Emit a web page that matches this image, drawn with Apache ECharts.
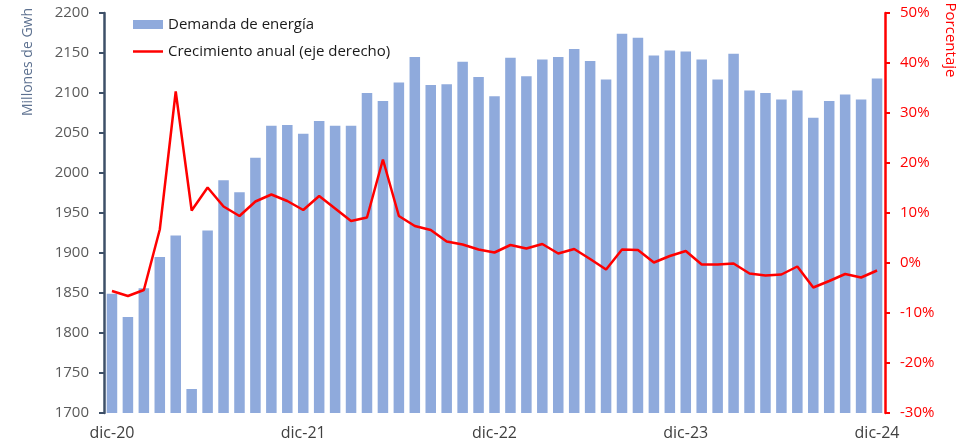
<!DOCTYPE html>
<html>
<head>
<meta charset="utf-8">
<script src="https://cdn.jsdelivr.net/npm/echarts@6/dist/echarts.min.js"></script>
<style>
  html, body { margin: 0; padding: 0; background: #ffffff; }
  #chart { width: 959px; height: 446px; }
</style>
</head>
<body>
<div id="chart"></div>
<script>
// meses: dic-20 a dic-24
const meses = [
  'dic-20',
  'ene-21', 'feb-21', 'mar-21', 'abr-21', 'may-21', 'jun-21', 'jul-21', 'ago-21', 'sep-21', 'oct-21', 'nov-21', 'dic-21',
  'ene-22', 'feb-22', 'mar-22', 'abr-22', 'may-22', 'jun-22', 'jul-22', 'ago-22', 'sep-22', 'oct-22', 'nov-22', 'dic-22',
  'ene-23', 'feb-23', 'mar-23', 'abr-23', 'may-23', 'jun-23', 'jul-23', 'ago-23', 'sep-23', 'oct-23', 'nov-23', 'dic-23',
  'ene-24', 'feb-24', 'mar-24', 'abr-24', 'may-24', 'jun-24', 'jul-24', 'ago-24', 'sep-24', 'oct-24', 'nov-24', 'dic-24'
];

// demanda mensual (millones de Gwh)
const demanda = [
  1849, 1820, 1856, 1895, 1922, 1730, 1928, 1991, 1976, 2019, 2059, 2060,
  2049, 2065, 2059, 2059, 2100, 2090, 2113, 2145, 2110, 2111, 2139, 2120,
  2096, 2144, 2121, 2142, 2145, 2155, 2140, 2117, 2174, 2169, 2147, 2153,
  2152, 2142, 2117, 2149, 2103, 2100, 2092, 2103, 2069, 2090, 2098, 2092,
  2118
];

// crecimiento anual (%)
const crecimiento = [
  -5.6, -6.6, -5.4, 6.7, 34.3, 10.5, 15.1, 11.3, 9.4, 12.3, 13.7, 12.4,
  10.6, 13.4, 10.9, 8.4, 9.1, 20.7, 9.4, 7.4, 6.6, 4.3, 3.7, 2.7,
  2.1, 3.6, 2.9, 3.8, 1.9, 2.8, 0.8, -1.3, 2.7, 2.6, 0.1, 1.4,
  2.4, -0.3, -0.3, -0.1, -2.1, -2.5, -2.3, -0.7, -4.9, -3.6, -2.2, -2.9,
  -1.5
];

const fuente = "'Open Sans', 'Liberation Sans', sans-serif";
const textoLeyenda = { fontSize: 15, color: '#1a1a1a', fontFamily: fuente };

const chart = echarts.init(document.getElementById('chart'));
chart.setOption({
  animation: false,
  backgroundColor: '#ffffff',
  textStyle: { fontFamily: fuente },
  grid: { left: 104, right: 74, top: 13, bottom: 33, containLabel: false },
  // dos leyendas para controlar cada icono por separado
  legend: [
    {
      left: 128,
      top: 12,
      itemWidth: 30,
      itemHeight: 9,
      textStyle: textoLeyenda,
      data: [{ name: 'Demanda de energía', icon: 'rect' }]
    },
    {
      left: 128,
      top: 39,
      itemWidth: 30,
      itemHeight: 2.5,
      textStyle: textoLeyenda,
      data: [{ name: 'Crecimiento anual (eje derecho)', icon: 'rect' }]
    }
  ],
  graphic: [
    {
      type: 'text',
      x: 28, y: 62,
      rotation: Math.PI / 2,
      style: {
        text: 'Millones de Gwh',
        fill: '#5d7190',
        font: "14px 'Open Sans', sans-serif",
        textAlign: 'center',
        textVerticalAlign: 'middle'
      }
    },
    {
      type: 'text',
      x: 950, y: 40,
      rotation: -Math.PI / 2,
      style: {
        text: 'Porcentaje',
        fill: '#ff0000',
        font: "15px 'Open Sans', sans-serif",
        textAlign: 'center',
        textVerticalAlign: 'middle'
      }
    }
  ],
  xAxis: {
    type: 'category',
    data: meses,
    boundaryGap: true,
    axisLine: { show: false },
    axisTick: { show: false },
    axisLabel: {
      interval: 11,
      margin: 12,
      fontSize: 16,
      color: '#404040',
      fontFamily: fuente
    }
  },
  yAxis: [
    {
      type: 'value',
      min: 1700,
      max: 2200,
      interval: 50,
      splitLine: { show: false },
      axisLine: { show: true, lineStyle: { color: '#3e5068', width: 2.5 } },
      axisTick: { show: true, length: 5, lineStyle: { color: '#3e5068', width: 2 } },
      axisLabel: {
        fontSize: 15,
        color: '#595959',
        margin: 15,
        fontFamily: fuente,
        formatter: v => String(v)
      }
    },
    {
      type: 'value',
      position: 'right',
      min: -30,
      max: 50,
      interval: 10,
      splitLine: { show: false },
      axisLine: { show: true, lineStyle: { color: '#ff0000', width: 2.5 } },
      axisTick: { show: true, length: 5, lineStyle: { color: '#ff0000', width: 2 } },
      axisLabel: {
        fontSize: 15,
        color: '#ff0000',
        margin: 15,
        fontFamily: fuente,
        formatter: v => v + '%'
      }
    }
  ],
  series: [
    {
      name: 'Demanda de energía',
      type: 'bar',
      data: demanda,
      yAxisIndex: 0,
      barCategoryGap: '34%',
      itemStyle: { color: '#8faadc' }
    },
    {
      name: 'Crecimiento anual (eje derecho)',
      type: 'line',
      data: crecimiento,
      yAxisIndex: 1,
      symbol: 'none',
      lineStyle: { color: '#ff0000', width: 2.5 },
      itemStyle: { color: '#ff0000' }
    }
  ]
});
</script>
</body>
</html>
